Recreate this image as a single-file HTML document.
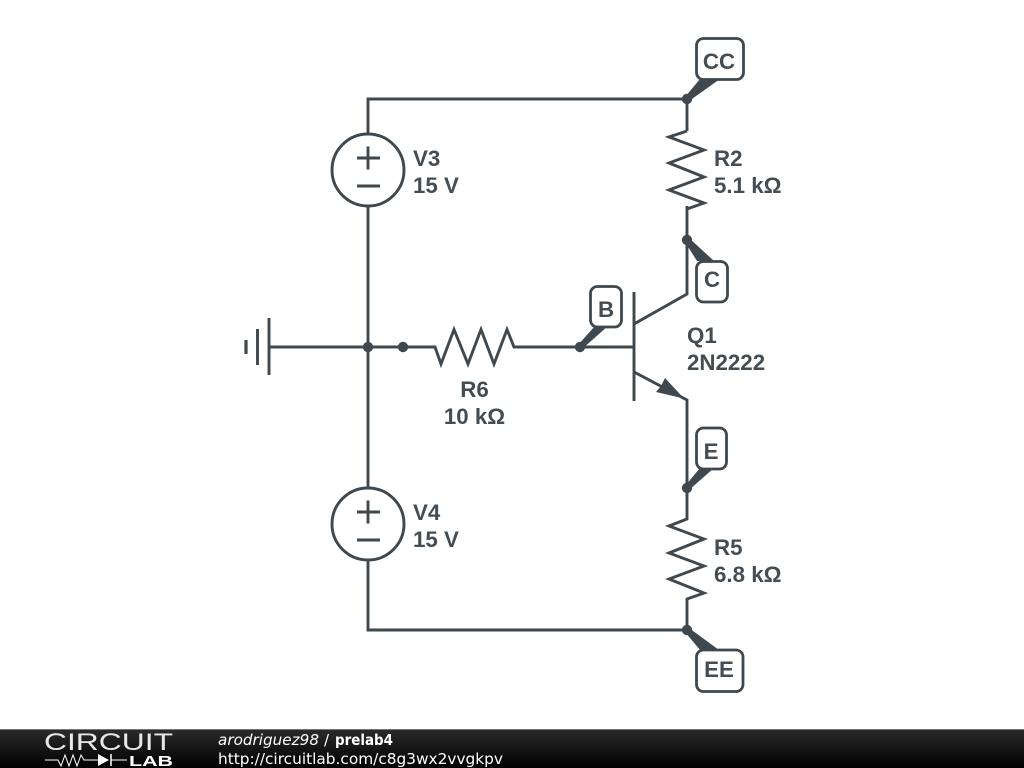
<!DOCTYPE html>
<html><head><meta charset="utf-8"><style>
html,body{margin:0;padding:0;background:#fff}
svg{display:block}
.w{fill:none;stroke:#3e484e;stroke-width:2.9;stroke-linejoin:miter}
.t{font-family:"Liberation Sans",sans-serif;font-size:22.3px;font-weight:bold;fill:#434d53}
.n{fill:#3e484e}
.b{fill:#fff;stroke:#3e484e;stroke-width:2.8}
.f{font-family:"DejaVu Sans",sans-serif;font-size:15px;fill:#fff}
</style></head><body>
<svg width="1024" height="768" viewBox="0 0 1024 768" xmlns="http://www.w3.org/2000/svg">
<defs><linearGradient id="g" x1="0" y1="0" x2="0" y2="1"><stop offset="0" stop-color="#2b2b2b"/><stop offset="1" stop-color="#000"/></linearGradient></defs>
<rect width="1024" height="768" fill="#fff"/>

<path class="w" d="M368 134V99H687V131"/>
<path class="w" d="M368 206V488M368 560V630H687"/>
<circle class="w" cx="368" cy="170" r="36"/>
<circle class="w" cx="368" cy="524" r="36"/>
<path class="w" d="M357 158H380M368 146.500V169.500M357 186H380"/>
<path class="w" d="M357 512H380M368 500.500V523.500M357 540H380"/>

<path class="w" d="M269 347H435L441 364L454 329.500L468 364L481 329.500L494 364L507 329.500L514 347H634"/>
<path class="w" d="M269 318V375M257.500 329V365"/>
<path d="M246 340V354" fill="none" stroke="#3e484e" stroke-width="3.2"/>

<path class="w" d="M687 131L669 137L704 150L669 163L704 177L669 190L704 203L687 209"/>
<path class="w" d="M687 206V294L634 324"/>
<path class="w" d="M634 292V401"/>
<path class="w" d="M634 372L687 400V519L669 526L704 539L669 553L704 566L669 579L704 593L687 599V630"/>
<path class="n" d="M684 398.500L656 392L661 386L665 378Z"/>

<g class="n">
<circle cx="368" cy="347" r="5.200"/>
<circle cx="403" cy="347" r="5.200"/>
<circle cx="580" cy="347" r="5.200"/>
<circle cx="687" cy="99" r="5.200"/>
<circle cx="687" cy="240" r="5.200"/>
<circle cx="687" cy="488" r="5.200"/>
<circle cx="687" cy="630" r="5.200"/>
<path d="M685 97L700 79H720L689 101Z"/>
<path d="M689 238L714 261H697L685 242Z"/>
<path d="M578 345L595 326H608L582 349Z"/>
<path d="M685 486L700 468H714L689 490Z"/>
<path d="M689 628L719 650H700L685 632Z"/>
</g>

<rect class="b" x="696.500" y="38.500" width="47" height="41" rx="7"/>
<rect class="b" x="696.500" y="261.500" width="31" height="40.500" rx="7"/>
<rect class="b" x="590.500" y="286.500" width="31" height="40.500" rx="7"/>
<rect class="b" x="696.500" y="428" width="30" height="41" rx="7"/>
<rect class="b" x="696.500" y="650" width="46.500" height="41.500" rx="7"/>

<g class="t">
<text x="719" y="69" text-anchor="middle">CC</text>
<text x="712" y="287" text-anchor="middle">C</text>
<text x="606" y="317" text-anchor="middle">B</text>
<text x="711" y="459" text-anchor="middle">E</text>
<text x="719" y="677" text-anchor="middle">EE</text>
<text x="413" y="166">V3</text>
<text x="413" y="193">15 V</text>
<text x="413" y="520">V4</text>
<text x="413" y="547">15 V</text>
<text x="714" y="166">R2</text>
<text x="714" y="193">5.1 kΩ</text>
<text x="714" y="555">R5</text>
<text x="714" y="582">6.8 kΩ</text>
<text x="474.500" y="397" text-anchor="middle">R6</text>
<text x="474.500" y="424" text-anchor="middle">10 kΩ</text>
<text x="687" y="343">Q1</text>
<text x="687" y="370">2N2222</text>
</g>

<rect x="0" y="729" width="1024" height="39" fill="url(#g)"/>
<rect x="0" y="729" width="1024" height="1" fill="#777"/>
<text x="44" y="750" font-family="'Liberation Sans',sans-serif" font-size="24" fill="#e8e8e8" textLength="129" lengthAdjust="spacingAndGlyphs">CIRCUIT</text>
<path d="M45 760H58L61 766L65 755L69 766L73 755L77 766L81 755L84 760H100M111 760H127" fill="none" stroke="#fff" stroke-width="1"/>
<path d="M98 754V766L109 760Z" fill="#fff"/>
<path d="M111 754V766" stroke="#fff" stroke-width="1.500"/>
<text x="129" y="766" font-family="'Liberation Sans',sans-serif" font-size="15" font-weight="bold" fill="#fff" textLength="44" lengthAdjust="spacingAndGlyphs">LAB</text>
<text class="f" x="218" y="745" font-size="14" font-style="italic" textLength="101" lengthAdjust="spacingAndGlyphs">arodriguez98</text>
<text class="f" x="324" y="745">/</text>
<text class="f" x="335" y="745" font-weight="bold" textLength="58" lengthAdjust="spacingAndGlyphs">prelab4</text>
<text class="f" x="218" y="764" textLength="285" lengthAdjust="spacingAndGlyphs">http://circuitlab.com/c8g3wx2vvgkpv</text>
</svg>
</body></html>
